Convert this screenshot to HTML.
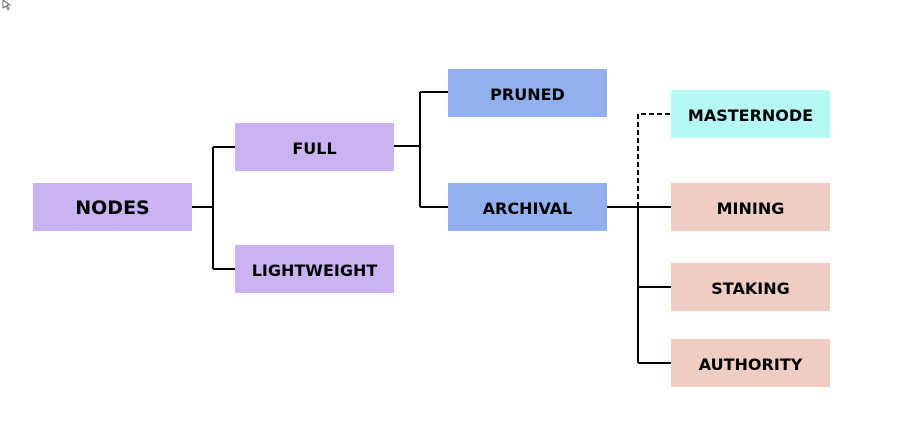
<!DOCTYPE html>
<html><head><style>
body{margin:0;background:#fff;width:901px;height:438px;position:relative;overflow:hidden;font-family:"DejaVu Sans","Liberation Sans",sans-serif;font-weight:bold;}
.b{position:absolute;width:159px;height:48px;box-sizing:border-box;padding-top:2px;display:flex;align-items:center;justify-content:center;font-size:16px;color:#000;letter-spacing:0px}
.p{background:#c9b3f2}.bl{background:#92b0f0}.c{background:#b5f8f4}.k{background:#efcdc3}
svg{position:absolute;left:0;top:0}
</style></head><body>
<svg width="901" height="438">
<g stroke="#000" stroke-width="2" fill="none">
<path d="M192 207H213M213 147V269M213 147H235M213 269H235"/>
<path d="M394 146H420M420 92V207M420 92H448M420 207H448"/>
<path d="M607 207H671M638 207V363M638 287H671M638 363H671"/>
<path d="M638 207V114H671" stroke-dasharray="5,3"/>
</g>
<path d="M3 0L3 8L6 6L8 10L9 9L7 5L10 5Z" fill="#fff" stroke="#555" stroke-width="0.8"/>
</svg>
<div class="b p" style="left:33px;top:183px;font-size:19px">NODES</div>
<div class="b p" style="left:235px;top:123px">FULL</div>
<div class="b p" style="left:235px;top:245px">LIGHTWEIGHT</div>
<div class="b bl" style="left:448px;top:69px">PRUNED</div>
<div class="b bl" style="left:448px;top:183px">ARCHIVAL</div>
<div class="b c" style="left:671px;top:90px">MASTERNODE</div>
<div class="b k" style="left:671px;top:183px">MINING</div>
<div class="b k" style="left:671px;top:263px">STAKING</div>
<div class="b k" style="left:671px;top:339px">AUTHORITY</div>
</body></html>
